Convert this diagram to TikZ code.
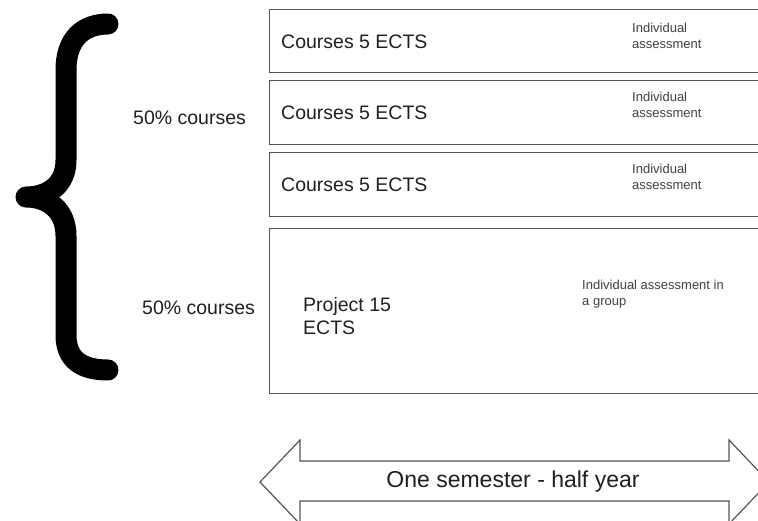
\documentclass[tikz,border=0pt]{standalone}
\usepackage{fontspec}
\setmainfont{Liberation Sans}
\begin{document}
\begin{tikzpicture}[x=1pt,y=-1pt,
  box/.style={draw=boxgray, line width=1.3pt, anchor=north west, inner sep=0pt},
  bigtxt/.style={font=\fontsize{19.5}{22.5}\selectfont, text=txtc, inner sep=0pt, align=left},
  smalltxt/.style={font=\fontsize{13}{15.5}\selectfont, text=smallc, inner sep=0pt, align=left, anchor=base west},
  brace/.style={line width=21pt, line cap=round, line join=round, draw=black},
  arrowshape/.style={draw=boxgray, line width=1.2pt, fill=white}]
\definecolor{boxgray}{HTML}{555555}
\definecolor{txtc}{HTML}{1F1F1F}
\definecolor{smallc}{HTML}{404040}
\useasboundingbox (0,0) rectangle (758,520);
\clip (0,0) rectangle (758,520);

% brace
\draw[brace] (108,24) .. controls (82,24) and (66,40) .. (66,70)
  -- (66,160) .. controls (66,185) and (48,197) .. (26,197)
  .. controls (48,197) and (66,210) .. (66,236)
  -- (66,335) .. controls (66,360) and (82,370) .. (108,370);

% left labels
\node[bigtxt, anchor=west] (l1) at (133,118) {50\% courses};
\node[bigtxt, anchor=west] (l2) at (142,308) {50\% courses};

% boxes
\node[box, minimum width=495pt, minimum height=63pt] (b1) at (269,9) {};
\node[box, minimum width=495pt, minimum height=64pt] (b2) at (269,80) {};
\node[box, minimum width=495pt, minimum height=64pt] (b3) at (269,152) {};
\node[box, minimum width=495pt, minimum height=165pt] (b4) at (269,228) {};

% box texts
\node[bigtxt, anchor=west] (c1) at (281,42) {Courses 5 ECTS};
\node[bigtxt, anchor=west] (c2) at (281,113) {Courses 5 ECTS};
\node[bigtxt, anchor=west] (c3) at (281,185) {Courses 5 ECTS};
\node[bigtxt, anchor=west] (p4) at (303,316) {Project 15\\ECTS};

\node[smalltxt] (a1) at (632,48) {Individual\\assessment};
\node[smalltxt] (a2) at (632,117) {Individual\\assessment};
\node[smalltxt] (a3) at (632,189) {Individual\\assessment};
\node[smalltxt] (a4) at (582,305) {Individual assessment in\\a group};

% double arrow
\draw[arrowshape] (260,482) -- (300,440) -- (300,461) -- (729,461) -- (729,440)
  -- (769,482) -- (729,524) -- (729,501) -- (300,501) -- (300,524) -- cycle;
\node[font=\fontsize{23}{27}\selectfont, text=txtc, inner sep=0pt] (sem) at (513,482) {One semester - half year};
\end{tikzpicture}
\end{document}
